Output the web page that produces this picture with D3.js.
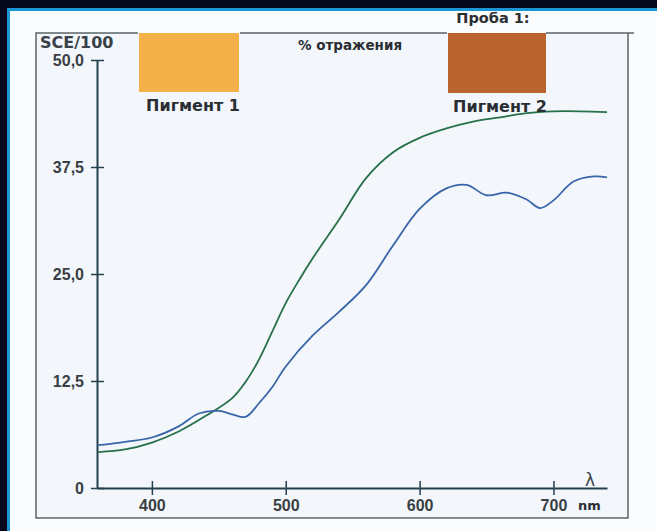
<!DOCTYPE html>
<html>
<head>
<meta charset="utf-8">
<script src="https://cdn.jsdelivr.net/npm/d3@7"></script>
<style>
  html, body { margin: 0; padding: 0; background: #fafcfe; overflow: hidden; }
  svg { display: block; font-family: "DejaVu Sans", "Liberation Sans", sans-serif; }
</style>
</head>
<body>
<svg id="chart" width="657" height="531"></svg>
<script>
// wavelengths (nm) and reflectance values
const greenNm = [360, 380, 400, 420, 440, 460, 470, 480, 490, 500, 510, 520, 540, 560, 580, 600, 620, 640, 660, 680, 700, 720, 740];
const greenVals = [4.2, 4.5, 5.3, 6.6, 8.4, 10.5, 12.4, 15.0, 18.3, 21.6, 24.3, 26.8, 31.4, 36.2, 39.2, 40.9, 42.0, 42.8, 43.3, 43.8, 44.0, 44.0, 43.9];

const blueNm = [360, 380, 400, 420, 435, 450, 460, 470, 480, 490, 500, 520, 540, 560, 580, 600, 620, 635, 650, 665, 680, 690, 700, 715, 730, 740];
const blueVals = [5.0, 5.4, 5.9, 7.2, 8.7, 9.0, 8.6, 8.3, 9.9, 11.8, 14.2, 17.8, 20.6, 23.7, 28.3, 32.6, 35.0, 35.4, 34.2, 34.5, 33.7, 32.7, 33.6, 35.8, 36.4, 36.3];

const xTicks = [400, 500, 600, 700];
const yTicks = [0, 12.5, 25, 37.5, 50];
const yTickLabels = ["0", "12,5", "25,0", "37,5", "50,0"];

const svg = d3.select("#chart");

// page: light sheet, dark band + blue edge only along top and left
svg.append("rect").attr("x", 0).attr("y", 0).attr("width", 657).attr("height", 531).attr("fill", "#fafcfe");
svg.append("rect").attr("x", 0).attr("y", 0).attr("width", 657).attr("height", 8).attr("fill", "#05081a");
svg.append("rect").attr("x", 0).attr("y", 0).attr("width", 7).attr("height", 531).attr("fill", "#05081a");
svg.append("rect").attr("x", 7).attr("y", 8).attr("width", 650).attr("height", 3).attr("fill", "#1c95d4");
svg.append("rect").attr("x", 7).attr("y", 8).attr("width", 3).attr("height", 523).attr("fill", "#1c95d4");
svg.append("rect").attr("x", 36).attr("y", 33).attr("width", 592).attr("height", 485).attr("fill", "#f3f7fb");

const x = d3.scaleLinear().domain([359, 740]).range([97, 607]);
const y = d3.scaleLinear().domain([0, 50]).range([488, 60]);

// inner box, top edge broken by the two swatches
const frame = svg.append("g").attr("stroke", "#5a6468").attr("stroke-width", 1.5).attr("fill", "none");
frame.append("path").attr("d", "M138,33 H36 V518 H628 V33");
frame.append("path").attr("d", "M240,33 H447");
frame.append("path").attr("d", "M546,33 H634");

// swatches
svg.append("rect").attr("x", 139).attr("y", 33).attr("width", 100).attr("height", 59).attr("fill", "#f4b049");
svg.append("rect").attr("x", 448).attr("y", 33).attr("width", 98).attr("height", 60).attr("fill", "#b9642f");

const axisColor = "#24404e";

// y axis
const yAxis = svg.append("g").attr("transform", `translate(${x(359)},0)`)
  .call(d3.axisLeft(y).tickValues(yTicks).tickFormat((d, i) => yTickLabels[i]).tickSize(0).tickPadding(13));
yAxis.select(".domain").attr("stroke", axisColor).attr("stroke-width", 2);
yAxis.selectAll("text").attr("font-size", 16).attr("font-weight", "bold").attr("fill", "#3a3f44");
yAxis.selectAll(".tick").append("line").attr("x1", -6).attr("x2", 7).attr("stroke", axisColor).attr("stroke-width", 1.5);

// x axis
const xAxis = svg.append("g").attr("transform", `translate(0,${y(0)})`)
  .call(d3.axisBottom(x).tickValues(xTicks).tickSize(0).tickPadding(12));
xAxis.select(".domain").attr("stroke", axisColor).attr("stroke-width", 2);
xAxis.selectAll("text").attr("font-size", 16).attr("font-weight", "bold").attr("fill", "#3a3f44");
xAxis.selectAll(".tick").append("line").attr("y1", -7).attr("y2", 7).attr("stroke", axisColor).attr("stroke-width", 1.5);

// curves
const line = d3.line().x(d => x(d[0])).y(d => y(d[1])).curve(d3.curveCatmullRom.alpha(0.5));
svg.append("path").datum(d3.zip(greenNm, greenVals))
  .attr("d", line).attr("fill", "none").attr("stroke", "#27704a").attr("stroke-width", 1.8);
svg.append("path").datum(d3.zip(blueNm, blueVals))
  .attr("d", line).attr("fill", "none").attr("stroke", "#3864a8").attr("stroke-width", 1.8);

// texts
const txt = (tx, ty, s, size, anchor = "start", extra = {}) => {
  const t = svg.append("text").attr("x", tx).attr("y", ty).text(s)
    .attr("font-size", size).attr("font-weight", "bold").attr("fill", "#2a2e33").attr("text-anchor", anchor);
  Object.entries(extra).forEach(([k, v]) => t.attr(k, v));
  return t;
};
txt(40, 48, "SCE/100", 16, "start", { fill: "#3a4148" });
txt(350, 50, "% отражения", 13.5, "middle");
txt(493, 23, "Проба 1:", 14.5, "middle");
txt(193, 111, "Пигмент 1", 16, "middle");
txt(500, 112, "Пигмент 2", 16, "middle");
txt(590, 486, "λ", 17, "middle", { "font-weight": "normal", fill: "#3a4148" });
txt(578, 510, "nm", 13, "start");
</script>
</body>
</html>
